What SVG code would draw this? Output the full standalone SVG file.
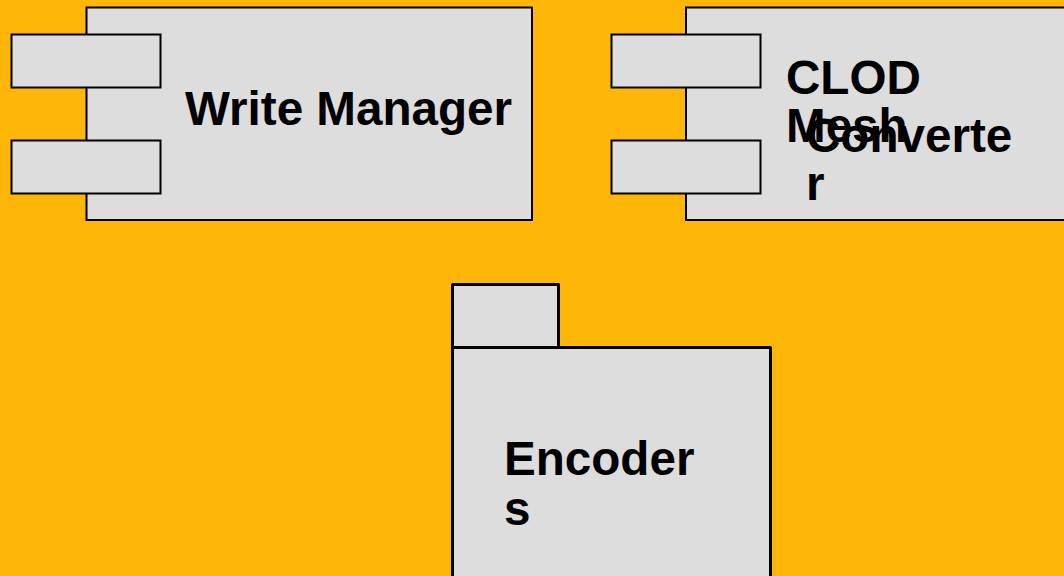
<svg xmlns="http://www.w3.org/2000/svg" width="1064" height="576" viewBox="0 0 1064 576">
<style>
.box{fill:#dddddd;stroke:#000;stroke-width:2}
.pkg{fill:#dddddd;stroke:#000;stroke-width:3;stroke-linejoin:round}
.lbl{font-family:"Liberation Sans",Arial,sans-serif;font-weight:bold;font-size:47.6px;fill:#000}
</style>
<rect x="0" y="0" width="1064" height="576" fill="#feb609"/>
<g id="write-manager">
<rect class="box" x="86.5" y="7.5" width="445.5" height="212.5"/>
<rect class="box" x="11.5" y="34.5" width="149" height="53"/>
<rect class="box" x="11.5" y="140.5" width="149" height="53"/>
<text class="lbl" x="185" y="125">Write Manager</text>
</g>
<g id="clod-mesh-converter">
<rect class="box" x="686" y="7.5" width="400" height="212.5"/>
<rect class="box" x="611.5" y="34.5" width="149" height="53"/>
<rect class="box" x="611.5" y="140.5" width="149" height="53"/>
<text class="lbl" x="786" y="94">CLOD</text>
<text class="lbl" x="786" y="142">Mesh</text>
<text class="lbl" x="806" y="152">Converte</text>
<text class="lbl" x="806" y="200">r</text>
</g>
<g id="encoders">
<rect class="pkg" x="452.5" y="284.5" width="106" height="63"/>
<rect class="pkg" x="452.5" y="347.5" width="318" height="240"/>
<text class="lbl" x="504" y="475">Encoder</text>
<text class="lbl" x="504" y="525">s</text>
</g>
<g id="connectors"></g>
</svg>
